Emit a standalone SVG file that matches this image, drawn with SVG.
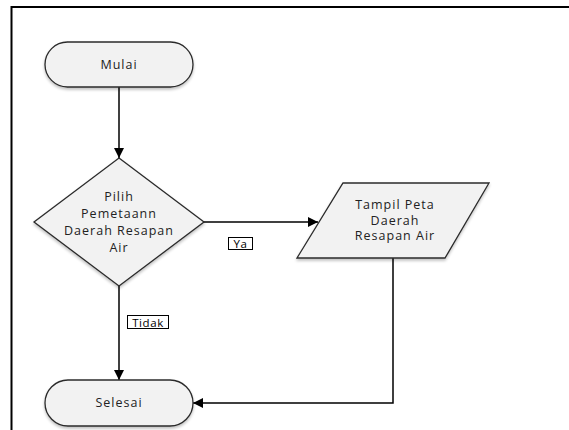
<svg xmlns="http://www.w3.org/2000/svg" width="569" height="430" viewBox="0 0 569 430">
<defs>
<marker id="arr" viewBox="0 0 10 10" refX="10" refY="5" markerWidth="10" markerHeight="10" markerUnits="userSpaceOnUse" orient="auto">
<path d="M0,0 L10,5 L0,10 Z" fill="#000"/>
</marker>
<filter id="sh" x="-10%" y="-10%" width="120%" height="130%">
<feGaussianBlur in="SourceAlpha" stdDeviation="1.5"/>
<feOffset dx="0" dy="1.5"/>
<feComponentTransfer><feFuncA type="linear" slope="0.25"/></feComponentTransfer>
<feMerge><feMergeNode/><feMergeNode in="SourceGraphic"/></feMerge>
</filter>
</defs>
<style>
.shape{fill:#f2f2f2;stroke:#2b2b2b;stroke-width:1.3;filter:url(#sh)}
.t{font-family:"Open Sans","Liberation Sans",sans-serif;font-size:12.5px;fill:#222;text-anchor:middle;letter-spacing:1px}
.c{fill:none;stroke:#000;stroke-width:1.5}
.lb{fill:#fff;stroke:#000;stroke-width:1}
.lt{font-family:"Open Sans","Liberation Sans",sans-serif;font-size:11.5px;fill:#000;text-anchor:middle;letter-spacing:0.6px}
</style>
<rect width="569" height="430" fill="#fff"/>
<path d="M11.5,430 V7 H569" fill="none" stroke="#000" stroke-width="2"/>
<g id="connectors">
<path class="c" d="M119,87 V158" marker-end="url(#arr)"/>
<path class="c" d="M204,222 H318" marker-end="url(#arr)"/>
<path class="c" d="M119,286 V380" marker-end="url(#arr)"/>
<path class="c" d="M393,258 V403 H193" marker-end="url(#arr)"/>
<g id="label-ya"><rect class="lb" x="228.5" y="237.5" width="24" height="12"/><text class="lt" x="240.5" y="247.5">Ya</text></g>
<g id="label-tidak"><rect class="lb" x="127.5" y="315.5" width="41" height="13"/><text class="lt" x="148" y="326.5">Tidak</text></g>
</g>
<g id="mulai">
<rect class="shape" x="45" y="42" width="148" height="45" rx="22.5"/>
<text class="t" x="119" y="69">Mulai</text>
</g>
<g id="pilih">
<polygon class="shape" points="119,158 204,222 119,286 34,222"/>
<text class="t" x="119" y="201">Pilih</text>
<text class="t" x="119" y="218">Pemetaann</text>
<text class="t" x="119" y="235">Daerah Resapan</text>
<text class="t" x="119" y="252">Air</text>
</g>
<g id="tampil">
<polygon class="shape" points="343,183 489,183 445,258 297,258"/>
<text class="t" x="395" y="209">Tampil Peta</text>
<text class="t" x="395" y="224.5">Daerah</text>
<text class="t" x="395" y="240">Resapan Air</text>
</g>
<g id="selesai">
<rect class="shape" x="45" y="380" width="148" height="46" rx="23"/>
<text class="t" x="119" y="407">Selesai</text>
</g>
</svg>
